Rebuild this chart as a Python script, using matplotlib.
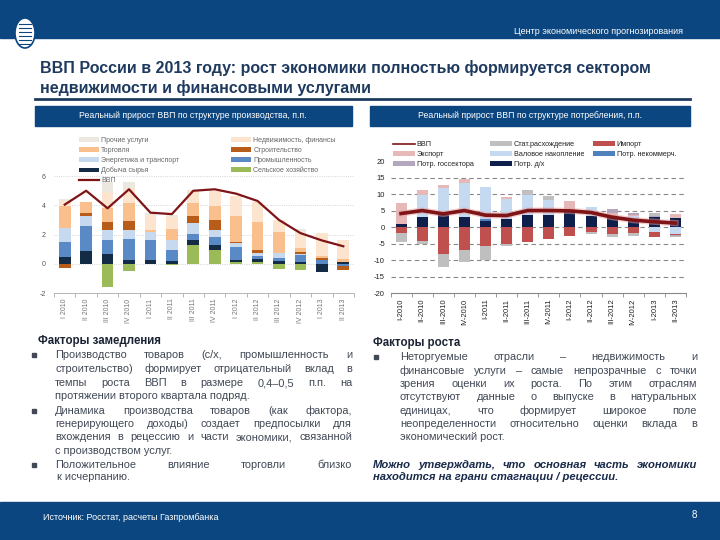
import matplotlib
matplotlib.use('Agg')
import matplotlib.pyplot as plt
import numpy as np
from matplotlib.patches import Rectangle, Ellipse
from matplotlib.lines import Line2D
import matplotlib.patheffects as pe

plt.rcParams['font.family'] = ['Liberation Sans', 'DejaVu Sans']
plt.rcParams['axes.unicode_minus'] = False

W, H = 720, 540
NAVY = '#0b4680'

# --- данные: структура производства (п.п.) ---
prod_labels = ['I 2010', 'II 2010', 'III 2010', 'IV 2010', 'I 2011', 'II 2011', 'III 2011',
               'IV 2011', 'I 2012', 'II 2012', 'III 2012', 'IV 2012', 'I 2013', 'II 2013']
gdp = [4.05, 5.0, 3.8, 5.1, 3.5, 3.4, 5.0, 5.1, 4.8, 4.3, 3.0, 2.1, 1.6, 1.2]
agri = [0, 0, -1.57, -0.5, 0, -0.08, 1.28, 0.91, 0.09, 0.14, -0.34, -0.4, 0, 0]
mining = [0.48, 0.9, 0.7, 0.25, 0.25, 0.18, 0.34, 0.39, 0.14, 0.18, 0.16, 0.09, -0.55, 0.15]
industry = [1.0, 1.66, 0.95, 1.48, 1.4, 0.75, 0.43, 0.5, 0.95, 0.23, 0.27, 0.52, 0.27, -0.15]
energy = [0.95, 0.68, 0.64, 0.61, 0.55, 0.68, 0.76, 0.52, 0.23, 0.18, 0.3, 0.05, 0, 0]
construction = [-0.3, 0.27, 0.55, 0.57, 0, 0, 0.43, 0.68, 0.11, 0.23, -0.05, 0.15, 0.1, -0.3]
trade = [1.5, 0.75, 0.98, 1.25, 0.12, 0.77, 0.92, 0.95, 1.75, 1.93, 1.48, 0.27, 0.16, 0.15]
realty = [0.35, 0, 1.1, 1.0, 1.0, 0.8, 0.9, 1.05, 1.4, 1.36, 0.8, 1.0, 1.6, 1.36]
other = [0.15, 0, 0.65, 0.41, 0.18, 0.18, 0, 0, 0, 0, 0, 0.3, 0, 0]

# --- данные: структура потребления (п.п.) ---
cons_labels = ['I-2010', 'II-2010', 'III-2010', 'IV-2010', 'I-2011', 'II-2011', 'III-2011',
               'IV-2011', 'I-2012', 'II-2012', 'III-2012', 'IV-2012', 'I-2013', 'II-2013']
gdp_c = [4.1, 5.0, 4.0, 5.0, 3.6, 3.5, 5.0, 5.0, 4.9, 4.4, 3.0, 2.1, 1.6, 1.2]
households = [0.9, 2.9, 3.6, 3.0, 1.9, 2.4, 3.6, 3.6, 4.7, 3.4, 2.9, 2.3, 2.9, 2.6]
nonprofit = [0, 0, 0, 0, 0.4, 0, 0, 0, 0, 0, 0, 0, 0, 0]
accumulation = [0, 6.8, 8.3, 10.3, 9.7, 6.0, 6.1, 4.6, 0, 2.8, 0, 1.0, -1.6, -2.2]
imports = [-1.9, -4.3, -8.2, -7.0, -5.8, -5.1, -4.5, -3.5, -2.8, -1.6, -2.1, -1.9, -1.3, -0.3]
exports = [6.5, 1.5, 0.8, 1.3, 0, 0.8, 0, 0, 3.1, 0, 1.5, 0.5, 0, 1.5]
government = [0, 0, 0, 0, 0, 0, 0, 0, 0, 0, 1.0, 0.4, 0.5, -0.3]
discrepancy = [-2.5, -0.7, -3.9, -3.6, -4.1, -0.7, 1.5, 1.2, 0, -0.5, -0.8, -0.7, 1.0, -0.3]


def stack(ax, x, series, colors, width):
    pos = np.zeros(len(x))
    neg = np.zeros(len(x))
    out = []
    for vals, c in zip(series, colors):
        v = np.array(vals, float)
        b = ax.bar(x, v, width, bottom=np.where(v >= 0, pos, neg), color=c, zorder=2, linewidth=0)
        pos += np.clip(v, 0, None)
        neg += np.clip(v, None, 0)
        out.append(b)
    return out


fig = plt.figure(figsize=(W / 100, H / 100), dpi=100)
bg = fig.add_axes([0, 0, 1, 1])
bg.set_xlim(0, W)
bg.set_ylim(H, 0)
bg.axis('off')

# шапка и подвал
bg.add_patch(Rectangle((0, 0), W, 38, color=NAVY))
bg.add_patch(Rectangle((0, 502), W, 38, color=NAVY))
bg.add_patch(Ellipse((25, 33), 20, 30, facecolor='white', edgecolor=NAVY, lw=1.2))
for dy in (-9, -5, -1, 3, 7, 11):
    bg.plot([19, 31], [33 + dy, 33 + dy], color=NAVY, lw=0.8)
bg.text(683, 31, 'Центр экономического прогнозирования', color='white', fontsize=6.5,
        ha='right', va='center')
bg.text(40, 68, 'ВВП России в 2013 году: рост экономики полностью формируется сектором',
        fontsize=11.5, fontweight='bold', color='#1f3a5f', va='center')
bg.text(40, 88, 'недвижимости и финансовыми услугами',
        fontsize=11.5, fontweight='bold', color='#1f3a5f', va='center')
bg.plot([35, 690], [99, 99], color='#1f3a5f', lw=2)
bg.add_patch(Rectangle((35, 106), 317, 20, color=NAVY))
bg.add_patch(Rectangle((370, 106), 320, 20, color=NAVY))
bg.text(193, 116, 'Реальный прирост ВВП по структуре производства, п.п.', color='white',
        fontsize=6.3, ha='center', va='center')
bg.text(530, 116, 'Реальный прирост ВВП по структуре потребления, п.п.', color='white',
        fontsize=6.3, ha='center', va='center')
bg.text(43, 517, 'Источник: Росстат, расчеты Газпромбанка', color='white', fontsize=6.5, va='center')
bg.text(697, 515, '8', color='white', fontsize=7, ha='right', va='center')

# --- левый график ---
x = np.arange(len(prod_labels))
ax1 = fig.add_axes([54 / W, 1 - 293 / H, 300 / W, 156 / H])
ax1.set_facecolor('none')
c1 = ['#9bbb59', '#132b45', '#5a8ac6', '#c6d9ef', '#b85c1a', '#f9c08e', '#fde4cf', '#ece8e0']
b1 = stack(ax1, x, [agri, mining, industry, energy, construction, trade, realty, other], c1, 0.55)
ax1.plot(x, gdp, color='#7f1416', lw=1.6, zorder=3)
ax1.set_xlim(-0.5, len(x) - 0.5)
ax1.set_ylim(-2, 8.68)
ax1.set_yticks([-2, 0, 2, 4, 6])
ax1.tick_params(axis='y', length=0, labelsize=5, labelcolor='#555', pad=6)
ax1.set_xticks(x)
ax1.set_xticklabels(prod_labels, rotation=90, fontsize=5, color='#777')
ax1.set_xticks(np.arange(len(x) + 1) - 0.5, minor=True)
ax1.tick_params(axis='x', which='major', length=0, pad=4)
ax1.tick_params(axis='x', which='minor', length=3, color='#aaa')
for s in ('top', 'right', 'left'):
    ax1.spines[s].set_visible(False)
ax1.spines['bottom'].set_color('#aaa')
ax1.spines['bottom'].set_linewidth(0.6)
ax1.grid(axis='y', linestyle=':', color='#c8c8c8', lw=0.6, zorder=0)
ax1.set_axisbelow(True)

lk = dict(fontsize=5, frameon=False, handlelength=2.9, handleheight=0.6, handletextpad=0.3,
          labelspacing=0.42, borderpad=0, borderaxespad=0, loc='upper left',
          bbox_transform=fig.transFigure, labelcolor='#666')
gdp_h = Line2D([], [], color='#7f1416', lw=1.6)
l1 = ax1.legend([b1[7], b1[5], b1[3], b1[1], gdp_h],
                ['Прочие услуги', 'Торговля', 'Энергетика и транспорт', 'Добыча сырья', 'ВВП'],
                bbox_to_anchor=(79 / W, 1 - 137 / H), **lk)
ax1.add_artist(l1)
ax1.legend([b1[6], b1[4], b1[2], b1[0]],
           ['Недвижимость, финансы', 'Строительство', 'Промышленность', 'Сельское хозяйство'],
           bbox_to_anchor=(231 / W, 1 - 137 / H), **lk)

# --- правый график ---
ax2 = fig.add_axes([390.5 / W, 1 - 293 / H, 295.5 / W, 153 / H])
ax2.set_facecolor('none')
c2 = ['#0f1f4b', '#4f81bd', '#c5d9f1', '#c0504d', '#e6b9b8', '#b3a7bd', '#bfbfbf']
b2 = stack(ax2, x, [households, nonprofit, accumulation, imports, exports, government, discrepancy],
           c2, 0.52)
ax2.plot(x, gdp_c, color='#7f1416', lw=2.6, zorder=3,
         path_effects=[pe.Stroke(linewidth=4.5, foreground='#e8a0a0', alpha=0.5), pe.Normal()])
ax2.set_xlim(-0.5, len(x) - 0.5)
ax2.set_ylim(-20, 26.4)
ax2.set_yticks(range(-20, 25, 5))
ax2.tick_params(axis='y', length=0, labelsize=5.5, labelcolor='#222', pad=4)
ax2.set_xticks(x)
ax2.set_xticklabels(cons_labels, rotation=90, fontsize=5.5, color='#222')
ax2.set_xticks(np.arange(len(x) + 1) - 0.5, minor=True)
ax2.tick_params(axis='x', which='major', length=0, pad=4)
ax2.tick_params(axis='x', which='minor', length=3, color='#888')
for s in ('top', 'right', 'left'):
    ax2.spines[s].set_visible(False)
ax2.spines['bottom'].set_color('#888')
ax2.spines['bottom'].set_linewidth(0.8)
for yv in range(-15, 20, 5):
    ax2.axhline(yv, color='#888', lw=0.8, ls=(0, (4, 3)), zorder=0)

rk = dict(lk, fontsize=5.2, labelcolor='#222', handlelength=3.0, handleheight=0.7,
          labelspacing=0.4)
gdp_h2 = Line2D([], [], color='#7f1416', lw=1.2)
groups = [([gdp_h2, b2[4], b2[5]], ['ВВП', 'Экспорт', 'Потр. госсектора'], 393),
          ([b2[6], b2[2], b2[0]], ['Стат.расхождение', 'Валовое накопление', 'Потр. д/х'], 490),
          ([b2[3], b2[1]], ['Импорт', 'Потр. некоммерч.'], 593)]
for i, (hs, ls, xp) in enumerate(groups):
    lg = ax2.legend(hs, ls, bbox_to_anchor=(xp / W, 1 - 141 / H), **rk)
    if i < len(groups) - 1:
        ax2.add_artist(lg)

# --- текст ---
renderer = fig.canvas.get_renderer()
TXT = '#414956'


def put_line(x0, x1, y, s, justify=True, **kw):
    words = s.split()
    yb = y + 3
    if not justify or len(words) < 2:
        bg.text(x0, yb, s, va='baseline', **kw)
        return
    texts = [bg.text(x0, yb, w, va='baseline', **kw) for w in words]
    widths = [t.get_window_extent(renderer).width for t in texts]
    gap = (x1 - x0 - sum(widths)) / (len(words) - 1)
    xp = x0
    for t, w in zip(texts, widths):
        t.set_x(xp)
        xp += w + gap


tk = dict(fontsize=7.9, color=TXT)
bg.text(38, 344, 'Факторы замедления', fontsize=8.3, fontweight='bold', color='#1a2233', va='baseline')
left_lines = [
    ('Производство товаров (с/х, промышленность и', True, 355),
    ('строительство) формирует отрицательный вклад в', True, 369),
    ('темпы роста ВВП в размере 0,4–0,5 п.п. на', True, 383),
    ('протяжении второго квартала подряд.', False, 396),
    ('Динамика производства товаров (как фактора,', True, 411),
    ('генерирующего доходы) создает предпосылки для', True, 424),
    ('вхождения в рецессию и части экономики, связанной', True, 437),
    ('с производством услуг.', False, 451),
    ('Положительное влияние торговли близко', True, 465),
]
for s, j, y in left_lines:
    put_line(55, 352, y, s, j, **tk)
put_line(57, 352, 477, 'к исчерпанию.', False, **tk)
for y in (355, 411, 465):
    bg.add_patch(Rectangle((32, y - 2), 3.5, 3.5, color=TXT))

bg.text(373, 346, 'Факторы роста', fontsize=8.3, fontweight='bold', color='#1a2233', va='baseline')
right_lines = [
    ('Неторгуемые отрасли – недвижимость и', True, 357),
    ('финансовые услуги – самые непрозрачные с точки', True, 371),
    ('зрения оценки их роста. По этим отраслям', True, 384),
    ('отсутствуют данные о выпуске в натуральных', True, 397),
    ('единицах, что формирует широкое поле', True, 411),
    ('неопределенности относительно оценки вклада в', True, 424),
    ('экономический рост.', False, 437),
]
for s, j, y in right_lines:
    put_line(400, 697, y, s, j, **tk)
bg.add_patch(Rectangle((374, 355), 3.5, 3.5, color=TXT))
ik = dict(fontsize=8.1, color='#1a2a4a', fontweight='bold', style='italic')
put_line(373, 697, 465, 'Можно утверждать, что основная часть экономики', True, **ik)
put_line(373, 697, 477, 'находится на грани стагнации / рецессии.', False, **ik)

fig.savefig('out.png', dpi=100)
